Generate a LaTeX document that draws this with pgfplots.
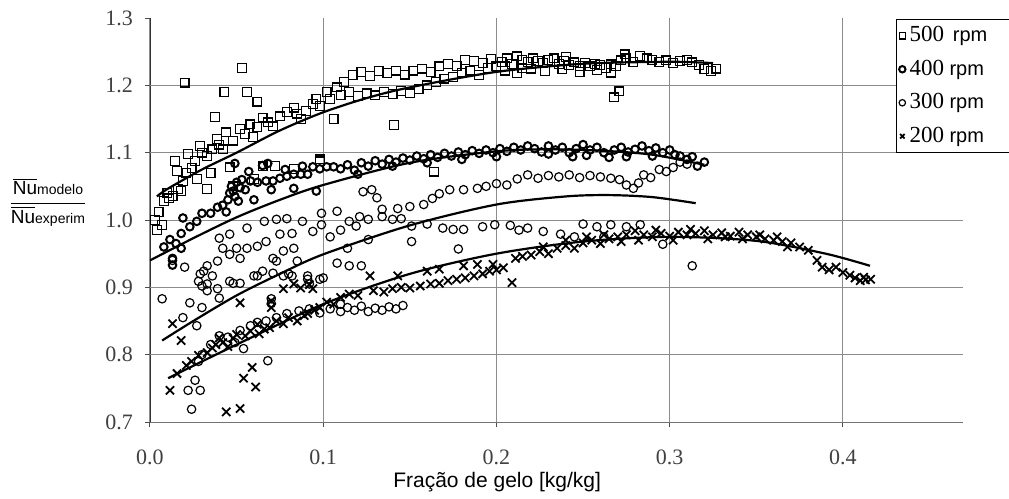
\documentclass[border=0pt]{standalone}
\usepackage{pgfplots}
\pgfplotsset{compat=1.18}
\usepackage{amsmath}
\usepackage{fontspec}
\setmainfont{Liberation Sans}
\newfontfamily\tnr{Liberation Serif}
\begin{document}
\begin{tikzpicture}
\useasboundingbox (-75pt,-38.5pt) rectangle (429.5pt,211pt);
\begin{axis}[
  at={(0,0)}, anchor=south west, scale only axis,
  width=406.5pt, height=202pt,
  xmin=0, xmax=0.4693, ymin=0.7, ymax=1.3,
  axis x line*=bottom, axis y line*=left,
  x axis line style={draw=black!55},
  y axis line style={draw=black!80},
  xtick={0,0.1,0.2,0.3,0.4}, xticklabels={0.0,0.1,0.2,0.3,0.4},
  ytick={0.7,0.8,0.9,1.0,1.1,1.2,1.3}, yticklabels={0.7,0.8,0.9,1.0,1.1,1.2,1.3},
  extra y ticks={0.8,0.9,1.0,1.1,1.2}, extra y tick labels={},
  extra y tick style={ymajorgrids=true, major tick length=0pt},
  xmajorgrids=true,
  grid style={draw=black!45, line width=0.5pt},
  tick align=outside, major tick length=2.5pt,
  tick style={draw=black!70, line width=0.5pt},
  /pgf/number format/assume math mode=true,
  xticklabel style={font=\tnr\fontsize{11}{12}\selectfont, text=black!75, yshift=-8pt},
  yticklabel style={font=\tnr\fontsize{11}{12}\selectfont, text=black!75, xshift=-2.5pt},
  xlabel={Fração de gelo [kg/kg]},
  xlabel style={at={(axis description cs:0.427,-0.1485)}, anchor=center, font=\fontsize{10.5}{12}\selectfont},
  ylabel={$\dfrac{\overline{\text{\fontsize{9.5}{10}\selectfont Nu}}\text{\fontsize{7}{8}\selectfont modelo}}{\overline{\text{\fontsize{9.5}{10}\selectfont Nu}}\text{\fontsize{7}{8}\selectfont experim}}$},
  ylabel style={rotate=-90, at={(axis description cs:-0.1255,0.5446)}, anchor=center},
  legend style={at={(0.917,0.9975)}, anchor=north west, draw=black, line width=0.6pt,
     font=\fontsize{10}{12}\selectfont, inner sep=1.5pt, row sep=3.6pt,
     /tikz/every even column/.append style={column sep=0pt}},
  legend cell align=left,
  legend image code/.code={\draw[#1, mark size=1.6pt] plot coordinates {(0.18cm,0cm)};},
]
% 500 rpm
\addplot[only marks, mark=square, mark size=2.2pt, mark options={draw=black, line width=0.6pt}] coordinates {
(0.020,1.204)(0.053,1.226)(0.043,1.190)(0.056,1.190)(0.062,1.176)(0.0375,1.153)(0.106,1.150)(0.141,1.141)(0.164,1.072)(0.098,1.090)(0.268,1.182)(0.271,1.191)
(0.003,1.000)(0.004,0.985)(0.005,1.012)(0.007,0.993)(0.008,1.028)(0.010,1.040)(0.013,1.036)(0.016,1.046)(0.019,1.058)(0.021,1.070)(0.024,1.077)(0.011,1.032)(0.018,1.043)(0.027,1.061)(0.035,1.070)(0.033,1.046)(0.046,1.078)(0.048,1.050)(0.060,1.061)(0.065,1.080)(0.083,1.076)(0.098,1.087)(0.072,1.080)
(0.0156,1.073)(0.022,1.098)(0.029,1.110)(0.0387,1.120)(0.044,1.130)(0.052,1.135)(0.058,1.142)(0.065,1.152)(0.075,1.154)(0.083,1.167)(0.094,1.172)(0.102,1.190)(0.108,1.197)(0.0144,1.088)(0.033,1.095)(0.042,1.105)(0.0595,1.123)(0.071,1.139)(0.087,1.150)(0.098,1.169)(0.026,1.088)(0.036,1.105)(0.048,1.118)(0.055,1.128)(0.068,1.145)(0.079,1.160)(0.090,1.162)(0.096,1.180)(0.030,1.100)(0.040,1.112)(0.062,1.138)(0.085,1.158)
(0.112,1.205)(0.117,1.215)(0.122,1.220)(0.127,1.214)(0.132,1.221)(0.137,1.218)(0.142,1.222)(0.147,1.216)(0.152,1.222)(0.157,1.225)(0.162,1.220)(0.167,1.228)(0.172,1.232)(0.177,1.229)(0.182,1.238)(0.187,1.236)(0.192,1.233)(0.197,1.239)
(0.104,1.180)(0.110,1.186)(0.115,1.190)(0.120,1.184)(0.125,1.188)(0.130,1.185)(0.135,1.190)(0.140,1.187)(0.145,1.192)(0.150,1.188)(0.155,1.195)(0.160,1.200)(0.165,1.205)(0.170,1.210)(0.175,1.212)(0.180,1.219)(0.185,1.222)(0.190,1.215)(0.195,1.226)(0.200,1.228)
(0.203,1.235)(0.206,1.240)(0.209,1.232)(0.212,1.243)(0.215,1.238)(0.218,1.235)(0.221,1.240)(0.224,1.236)(0.227,1.233)(0.230,1.238)(0.233,1.240)(0.236,1.232)(0.239,1.236)(0.242,1.230)(0.245,1.234)(0.248,1.229)(0.251,1.233)(0.254,1.228)(0.257,1.232)(0.260,1.230)(0.263,1.226)(0.266,1.231)(0.269,1.228)(0.272,1.237)(0.275,1.240)(0.279,1.235)(0.283,1.244)(0.287,1.240)(0.290,1.238)(0.294,1.235)(0.298,1.237)(0.302,1.233)(0.306,1.236)(0.310,1.238)(0.313,1.234)(0.317,1.230)(0.320,1.224)(0.324,1.221)(0.327,1.225)
(0.205,1.222)(0.212,1.218)(0.220,1.225)(0.228,1.221)(0.238,1.224)(0.248,1.220)(0.258,1.223)(0.266,1.219)(0.205,1.228)(0.215,1.226)(0.274,1.246)(0.240,1.242)
};
\addlegendentry{{\tnr\fontsize{11.5}{12}\selectfont 500} \,rpm\hspace*{14pt}}
% 400 rpm
\addplot[only marks, mark=o, mark size=1.9pt, mark options={draw=black, line width=1pt}] coordinates {
(0.0115,0.971)(0.018,0.980)(0.013,0.943)(0.013,0.933)(0.019,1.003)(0.018,0.958)(0.027,0.998)(0.030,1.010)(0.035,1.010)(0.039,1.019)(0.042,1.022)(0.045,1.030)(0.048,1.043)(0.050,1.056)(0.046,1.040)(0.047,1.050)(0.049,1.035)(0.052,1.048)(0.053,1.060)(0.051,1.028)(0.044,1.012)(0.058,1.058)(0.062,1.056)(0.067,1.058)(0.071,1.058)(0.075,1.062)(0.079,1.065)(0.083,1.068)(0.087,1.068)(0.091,1.068)(0.094,1.079)(0.098,1.076)(0.102,1.079)(0.106,1.079)(0.049,1.084)(0.065,1.081)(0.068,1.084)(0.096,1.043)(0.060,1.030)(0.083,1.047)(0.023,0.990)(0.008,0.960)(0.015,0.965)(0.055,1.045)(0.057,1.072)(0.078,1.075)(0.088,1.080)(0.070,1.045)
(0.110,1.076)(0.114,1.082)(0.118,1.074)(0.122,1.085)(0.126,1.080)(0.130,1.088)(0.134,1.083)(0.138,1.090)(0.142,1.086)(0.146,1.092)(0.150,1.089)(0.154,1.095)(0.158,1.091)(0.162,1.097)(0.166,1.093)(0.170,1.099)(0.174,1.095)(0.178,1.101)(0.182,1.097)(0.186,1.103)(0.190,1.099)(0.194,1.104)(0.198,1.100)(0.202,1.106)(0.206,1.102)(0.210,1.108)(0.214,1.104)(0.218,1.110)(0.120,1.068)(0.140,1.080)(0.160,1.085)(0.180,1.090)(0.200,1.094)
(0.222,1.106)(0.226,1.101)(0.230,1.110)(0.234,1.104)(0.238,1.108)(0.242,1.100)(0.246,1.106)(0.250,1.112)(0.254,1.104)(0.258,1.108)(0.262,1.100)(0.265,1.093)(0.268,1.104)(0.272,1.108)(0.276,1.101)(0.280,1.105)(0.284,1.110)(0.288,1.103)(0.292,1.107)(0.296,1.100)(0.300,1.104)(0.303,1.097)(0.306,1.095)(0.310,1.090)(0.313,1.094)(0.316,1.080)(0.320,1.086)(0.252,1.096)(0.275,1.094)(0.290,1.095)(0.244,1.094)(0.230,1.098)
};
\addlegendentry{{\tnr\fontsize{11.5}{12}\selectfont 400} rpm}
% 300 rpm
\addplot[only marks, mark=o, mark size=2.1pt, mark options={draw=black, line width=0.6pt}] coordinates {
(0.007,0.883)(0.023,0.877)(0.026,0.762)(0.022,0.747)(0.029,0.747)(0.024,0.719)(0.068,0.791)(0.054,0.809)(0.049,0.818)(0.045,0.826)(0.040,0.828)(0.052,0.836)(0.058,0.843)(0.062,0.848)(0.067,0.850)(0.073,0.855)(0.079,0.861)(0.070,0.876)(0.070,0.883)(0.035,0.815)(0.030,0.800)(0.028,0.790)
(0.086,0.865)(0.092,0.868)(0.098,0.862)(0.104,0.868)(0.110,0.864)(0.114,0.870)(0.118,0.866)(0.122,0.872)(0.126,0.864)(0.130,0.869)(0.134,0.866)(0.138,0.871)(0.142,0.868)(0.146,0.873)(0.110,0.875)
(0.056,0.988)(0.066,0.998)(0.073,1.001)(0.079,1.002)(0.067,0.968)(0.075,0.979)(0.082,0.980)(0.088,0.998)(0.094,0.983)(0.099,1.010)(0.099,0.993)(0.108,0.936)(0.040,0.973)(0.046,0.979)(0.042,0.958)(0.050,0.958)(0.056,0.958)(0.062,0.961)(0.039,0.939)(0.033,0.932)(0.046,0.949)(0.052,0.943)(0.071,0.943)(0.077,0.954)(0.083,0.958)(0.085,0.939)(0.073,0.939)(0.031,0.924)(0.036,0.917)(0.028,0.909)(0.030,0.902)(0.033,0.895)(0.039,0.898)(0.040,0.884)(0.062,0.917)(0.065,0.924)(0.071,0.921)(0.077,0.917)(0.082,0.917)(0.091,0.912)(0.092,0.905)(0.098,0.912)(0.046,0.909)(0.052,0.906)(0.029,0.920)(0.033,0.905)(0.048,0.906)(0.030,0.870)(0.027,0.843)(0.019,0.855)(0.060,0.917)(0.080,0.920)(0.091,0.917)(0.100,0.914)(0.013,0.940)(0.020,0.930)
(0.108,1.013)(0.115,0.998)(0.119,0.991)(0.121,1.005)(0.126,1.001)(0.134,1.016)(0.134,1.005)(0.140,1.001)(0.145,1.002)(0.151,0.991)(0.160,0.994)(0.114,0.958)(0.126,0.971)(0.115,0.932)(0.122,0.932)(0.151,0.968)(0.178,0.957)(0.123,1.042)(0.128,1.045)(0.131,1.033)(0.104,0.975)(0.110,0.985)
(0.143,1.017)(0.150,1.020)(0.158,1.023)(0.163,1.032)(0.167,1.039)(0.173,1.045)(0.181,1.045)(0.189,1.047)(0.194,1.050)(0.200,1.054)(0.206,1.052)(0.212,1.061)(0.218,1.067)(0.224,1.062)(0.230,1.066)(0.236,1.064)(0.242,1.067)(0.248,1.063)(0.254,1.066)(0.260,1.064)(0.266,1.062)(0.271,1.060)(0.275,1.052)(0.279,1.047)(0.282,1.055)(0.285,1.067)(0.289,1.063)(0.294,1.075)(0.298,1.072)(0.302,1.078)(0.306,1.086)(0.310,1.083)
(0.169,0.988)(0.175,0.986)(0.181,0.986)(0.192,0.990)(0.199,0.993)(0.208,0.992)(0.213,0.985)(0.218,0.988)(0.227,0.983)(0.237,0.979)(0.250,0.994)(0.258,0.990)(0.266,0.993)(0.275,0.990)(0.283,0.993)(0.296,0.964)(0.313,0.932)(0.245,0.975)(0.262,0.975)
};
\addlegendentry{{\tnr\fontsize{11.5}{12}\selectfont 300} rpm}
% 200 rpm
\addplot[only marks, mark=x, mark size=2.9pt, mark options={draw=black, line width=0.9pt}] coordinates {
(0.0115,0.747)(0.018,0.821)(0.013,0.846)(0.052,0.877)(0.059,0.781)(0.054,0.765)(0.061,0.752)(0.044,0.715)(0.052,0.720)(0.070,0.880)(0.070,0.870)(0.0156,0.772)(0.021,0.784)(0.028,0.799)(0.033,0.803)(0.036,0.810)(0.042,0.818)(0.048,0.824)(0.055,0.828)(0.063,0.831)(0.069,0.840)(0.077,0.846)(0.085,0.850)(0.091,0.861)(0.098,0.870)(0.106,0.875)(0.077,0.898)(0.087,0.899)(0.094,0.898)(0.024,0.790)(0.038,0.815)(0.045,0.812)(0.058,0.835)(0.066,0.838)(0.073,0.850)(0.080,0.855)(0.089,0.858)(0.095,0.866)(0.102,0.878)(0.040,0.825)(0.050,0.830)(0.083,0.905)(0.092,0.904)(0.062,0.845)
(0.127,0.917)(0.143,0.917)(0.160,0.924)(0.167,0.927)(0.181,0.932)(0.189,0.934)(0.198,0.934)(0.211,0.943)(0.215,0.946)(0.115,0.890)(0.129,0.895)(0.140,0.898)(0.150,0.899)(0.156,0.902)(0.167,0.906)(0.177,0.912)(0.187,0.917)(0.196,0.924)(0.204,0.929)(0.209,0.907)(0.110,0.885)(0.120,0.888)(0.135,0.893)(0.145,0.900)(0.162,0.905)(0.172,0.910)(0.182,0.914)(0.192,0.920)(0.200,0.926)
(0.220,0.948)(0.225,0.953)(0.230,0.950)(0.235,0.958)(0.240,0.962)(0.245,0.958)(0.250,0.966)(0.255,0.970)(0.260,0.965)(0.265,0.972)(0.270,0.975)(0.275,0.978)(0.280,0.984)(0.285,0.978)(0.290,0.975)(0.295,0.980)(0.300,0.976)(0.305,0.982)(0.310,0.978)(0.315,0.980)(0.320,0.984)(0.325,0.978)(0.330,0.981)(0.335,0.976)(0.340,0.982)(0.345,0.978)(0.350,0.975)(0.355,0.972)(0.360,0.970)(0.365,0.968)(0.370,0.966)(0.375,0.960)(0.380,0.955)(0.385,0.940)(0.388,0.930)(0.392,0.926)(0.396,0.930)(0.400,0.922)(0.404,0.918)(0.407,0.914)(0.410,0.910)(0.413,0.911)(0.416,0.912)(0.412,0.915)(0.240,0.970)(0.252,0.975)(0.262,0.978)(0.272,0.968)(0.282,0.970)(0.292,0.985)(0.302,0.970)(0.312,0.986)(0.322,0.972)(0.332,0.975)(0.342,0.972)(0.352,0.978)(0.362,0.975)(0.368,0.960)(0.227,0.960)
};
\addlegendentry{{\tnr\fontsize{11.5}{12}\selectfont 200} rpm}
% fitted curves
\addplot[forget plot, black, line width=1.1pt, smooth] coordinates {
(0.004,1.035)(0.01,1.046)(0.03,1.075)(0.05,1.100)(0.075,1.133)(0.1,1.160)(0.125,1.181)(0.15,1.197)(0.2,1.220)(0.25,1.232)(0.3,1.235)(0.325,1.233)};
\addplot[forget plot, black, line width=1.1pt, smooth] coordinates {
(0.0,0.940)(0.025,0.973)(0.05,1.004)(0.075,1.030)(0.1,1.052)(0.15,1.085)(0.2,1.102)(0.23,1.105)(0.26,1.103)(0.29,1.097)(0.32,1.082)};
\addplot[forget plot, black, line width=1.1pt, smooth] coordinates {
(0.007,0.821)(0.025,0.850)(0.05,0.888)(0.075,0.920)(0.1,0.949)(0.15,0.992)(0.2,1.023)(0.24,1.035)(0.265,1.037)(0.29,1.034)(0.315,1.025)};
\addplot[forget plot, black, line width=1.1pt, smooth] coordinates {
(0.0105,0.765)(0.05,0.815)(0.1,0.875)(0.15,0.920)(0.2,0.950)(0.25,0.968)(0.3,0.975)(0.35,0.969)(0.39,0.950)(0.4156,0.932)};
\end{axis}
\end{tikzpicture}
\end{document}
